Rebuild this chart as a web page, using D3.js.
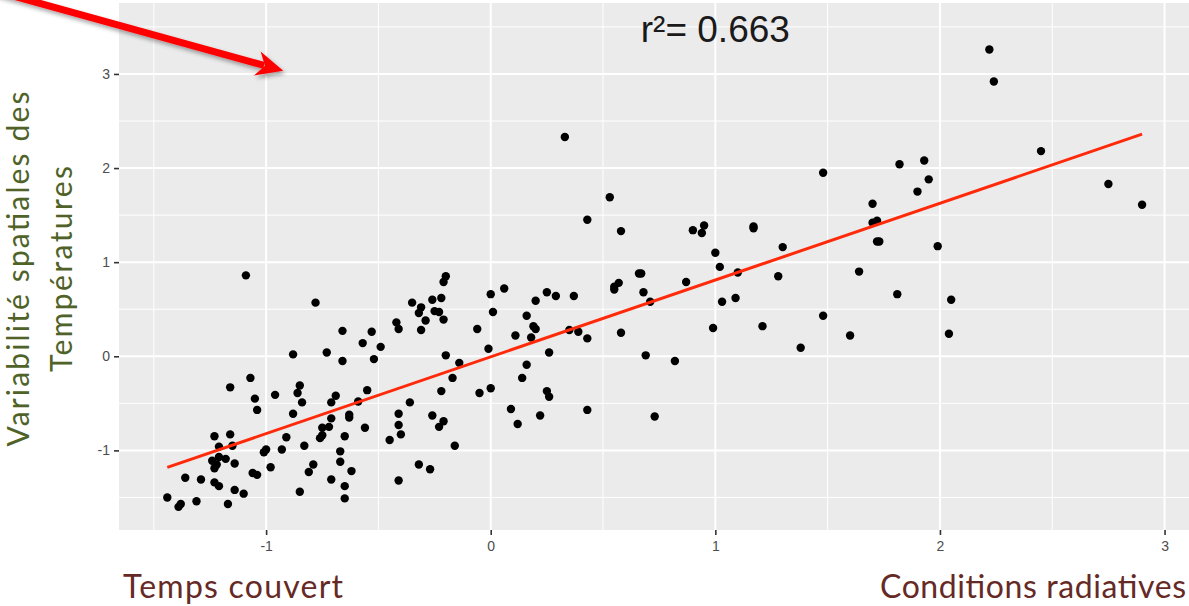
<!DOCTYPE html>
<html>
<head>
<meta charset="utf-8">
<script src="https://cdn.jsdelivr.net/npm/d3@7"></script>
<style>
  html, body { margin: 0; padding: 0; background: #ffffff; }
  svg { display: block; }
</style>
</head>
<body>
<svg id="chart" width="1189" height="606"></svg>
<script>
// Standardised anomalies: weather-type index (x) vs spatial temperature variability (y)
const xValues = [
  -1.44, -1.39, -1.38, -1.31, -1.36, -1.29, -1.23, -1.21, -1.14, -1.10,
  -1.17, -1.24, -1.22, -1.21, -1.18, -1.14, -1.23, -1.21, -1.15, -1.23,
  -1.16, -1.06, -1.04, -0.98, -1.01, -1.00, -0.93, -1.07, -1.16, -1.05,
  -1.04, -1.09, -0.96, -0.85, -0.86, -0.84, -0.88, -0.91, -0.83, -0.79,
  -0.81, -0.85, -0.78, -0.88, -0.73, -0.66, -0.66, -0.69, -0.71, -0.71,
  -0.75, -0.72, -0.76, -0.75, -0.65, -0.67, -0.67, -0.62, -0.71, -0.65,
  -0.65, -0.63, -0.63, -0.59, -0.56, -0.55, -0.57, -0.53, -0.52, -0.49,
  -0.42, -0.41, -0.35, -0.31, -0.32, -0.31, -0.29, -0.26, -0.25, -0.23,
  -0.22, -0.21, -0.20, -0.21, -0.20, -0.14, -0.17, -0.22, -0.36, -0.41,
  -0.41, -0.40, -0.45, -0.26, -0.21, -0.23, -0.16, -0.41, -0.32, -0.27,
  -0.05, 0.00, -0.06, -0.01, 0.00, 0.01, 0.06, 0.09, 0.12, 0.22,
  0.14, 0.16, 0.26, 0.11, 0.18, 0.19, 0.20, 0.16, 0.20, 0.25,
  0.29, 0.37, 0.35, 0.39, 0.43, 0.25, 0.26, 0.43, 0.33, 0.43,
  0.53, 0.58, 0.55, 0.57, 0.55, 0.66, 0.67, 0.68, 0.71, 0.58,
  0.69, 0.73, 0.82, 0.87, 0.90, 0.94, 0.95, 1.00, 1.02, 1.03,
  0.99, 1.09, 1.10, 1.17, 1.17, 1.21, 1.28, 1.30, 1.38, 1.48,
  1.48, 1.60, 1.64, 1.70, 1.70, 1.72, 1.72, 1.73, 1.81, 1.82,
  1.90, 1.93, 1.95, 1.99, 2.04, 2.05, 2.22, 2.24, 2.45, 2.75,
  2.90
];
const yValues = [
  -1.50, -1.60, -1.57, -1.54, -1.29, -1.31, -1.34, -1.38, -1.42, -1.46,
  -1.57, -1.11, -1.15, -1.07, -1.09, -1.14, -1.19, -0.96, -0.95, -0.85,
  -0.83, -1.24, -1.26, -1.18, -1.02, -0.99, -0.99, -0.23, -0.33, -0.45,
  -0.57, 0.86, -0.41, -0.31, -0.39, -0.49, -0.61, -0.86, -0.95, -1.15,
  -1.23, -1.44, 0.57, 0.02, 0.04, 0.27, -0.05, -0.42, -0.49, -0.66,
  -0.76, -0.75, -0.87, -0.84, -0.85, -1.01, -1.12, -1.22, -1.31, -1.38,
  -1.51, -0.62, -0.65, -0.48, -0.76, -0.36, 0.14, 0.26, -0.03, 0.10,
  0.36, 0.29, 0.57, 0.52, 0.46, 0.28, 0.38, 0.60, 0.48, 0.47,
  0.62, 0.39, 0.85, 0.79, 0.01, -0.07, -0.23, -0.37, -0.49, -0.61,
  -0.73, -0.83, -0.89, -0.63, -0.69, -0.75, -0.95, -1.32, -1.15, -1.20,
  -0.39, -0.34, 0.29, 0.08, 0.66, 0.47, 0.72, -0.56, -0.72, -0.63,
  -0.23, -0.09, 0.04, 0.22, 0.20, 0.32, 0.29, 0.43, 0.59, 0.68,
  0.64, 0.64, 0.28, 0.26, 0.19, -0.37, -0.43, -0.57, 2.33, 1.45,
  1.69, 1.33, 0.71, 0.78, 0.74, 0.88, 0.88, 0.68, 0.58, 0.25,
  0.01, -0.64, -0.05, 0.79, 1.34, 1.31, 1.39, 1.10, 0.95, 0.58,
  0.30, 0.62, 0.89, 1.38, 1.36, 0.32, 0.85, 1.16, 0.09, 1.95,
  0.43, 0.22, 0.90, 1.62, 1.42, 1.44, 1.22, 1.22, 0.66, 2.04,
  1.75, 2.08, 1.88, 1.17, 0.24, 0.60, 3.26, 2.92, 2.18, 1.83,
  1.61
];

// Linear fit drawn over the data range, and its coefficient of determination
const fitIntercept = -0.006;
const fitSlope = 0.816;
const rSquared = 0.663;

const xTicks = [-1, 0, 1, 2, 3];
const yTicks = [-1, 0, 1, 2, 3];
const xMinorTicks = [-1.5, -0.5, 0.5, 1.5, 2.5];
const yMinorTicks = [-1.5, -0.5, 0.5, 1.5, 2.5, 3.5];

const yTitleLines = ["Variabilité spatiales des", "Températures"];
const xTitleLow = "Temps couvert";
const xTitleHigh = "Conditions radiatives";

const svg = d3.select("#chart");

const panel = { left: 119, top: 3, right: 1191.5, bottom: 530 };
const x = d3.scaleLinear().domain([-1.655, 3.12]).range([panel.left, panel.right]);
const y = d3.scaleLinear().domain([-1.846, 3.754]).range([panel.bottom, panel.top]);

const defs = svg.append("defs");
defs.append("clipPath").attr("id", "panel-clip")
  .append("rect")
  .attr("x", panel.left).attr("y", panel.top)
  .attr("width", panel.right - panel.left)
  .attr("height", panel.bottom - panel.top);

const shadow = defs.append("filter").attr("id", "arrow-shadow")
  .attr("x", "-20%").attr("y", "-50%").attr("width", "140%").attr("height", "200%");
shadow.append("feDropShadow")
  .attr("dx", 2).attr("dy", 3).attr("stdDeviation", 2)
  .attr("flood-color", "#000").attr("flood-opacity", 0.35);

// Panel background
svg.append("rect")
  .attr("x", panel.left).attr("y", panel.top)
  .attr("width", panel.right - panel.left)
  .attr("height", panel.bottom - panel.top)
  .attr("fill", "#EBEBEB");

const grid = svg.append("g").attr("clip-path", "url(#panel-clip)");

// Minor grid
grid.selectAll("line.vminor").data(xMinorTicks).join("line")
  .attr("class", "vminor")
  .attr("x1", d => x(d)).attr("x2", d => x(d))
  .attr("y1", panel.top).attr("y2", panel.bottom)
  .attr("stroke", "#ffffff").attr("stroke-width", 1);
grid.selectAll("line.hminor").data(yMinorTicks).join("line")
  .attr("class", "hminor")
  .attr("y1", d => y(d)).attr("y2", d => y(d))
  .attr("x1", panel.left).attr("x2", panel.right)
  .attr("stroke", "#ffffff").attr("stroke-width", 1);

// Major grid
grid.selectAll("line.vmajor").data(xTicks).join("line")
  .attr("class", "vmajor")
  .attr("x1", d => x(d)).attr("x2", d => x(d))
  .attr("y1", panel.top).attr("y2", panel.bottom)
  .attr("stroke", "#ffffff").attr("stroke-width", 2);
grid.selectAll("line.hmajor").data(yTicks).join("line")
  .attr("class", "hmajor")
  .attr("y1", d => y(d)).attr("y2", d => y(d))
  .attr("x1", panel.left).attr("x2", panel.right)
  .attr("stroke", "#ffffff").attr("stroke-width", 2);

// Axes (plain hyphen-minus in the labels)
const plainInt = d => String(d);
const xAxis = d3.axisBottom(x).tickValues(xTicks).tickSize(5).tickPadding(6)
  .tickFormat(plainInt);
const yAxis = d3.axisLeft(y).tickValues(yTicks).tickSize(5).tickPadding(4)
  .tickFormat(plainInt);

const gx = svg.append("g").attr("transform", `translate(0,${panel.bottom})`).call(xAxis);
const gy = svg.append("g").attr("transform", `translate(${panel.left},0)`).call(yAxis);
[gx, gy].forEach(g => {
  g.select(".domain").remove();
  g.selectAll(".tick line").attr("stroke", "#333333").attr("stroke-width", 1.6);
  g.selectAll(".tick text")
    .attr("fill", "#4D4D4D")
    .style("font-family", "'Liberation Sans', Arial, sans-serif")
    .style("font-size", "14px");
});
gx.selectAll(".tick text").attr("dy", "0.71em");

// Points
const pts = d3.zip(xValues, yValues);
svg.append("g").attr("clip-path", "url(#panel-clip)")
  .selectAll("circle").data(pts).join("circle")
  .attr("cx", d => x(d[0])).attr("cy", d => y(d[1]))
  .attr("r", 4.2)
  .attr("fill", "#000000");

// Regression line across the observed x range
const xExtent = d3.extent(xValues);
const fitLine = d3.line().x(d => x(d)).y(d => y(fitIntercept + fitSlope * d));
svg.append("path")
  .datum(xExtent)
  .attr("d", fitLine)
  .attr("fill", "none")
  .attr("stroke", "#FF2A0A")
  .attr("stroke-width", 3);

// r² annotation
svg.append("text")
  .attr("x", x(1)).attr("y", 41.5)
  .attr("text-anchor", "middle")
  .attr("fill", "#1a1a1a")
  .style("font-family", "'Liberation Sans', Arial, sans-serif")
  .style("font-size", "37px")
  .text(`r²= ${rSquared.toFixed(3)}`);

// Y-axis title (two lines, rotated)
const yTitleSpecs = [
  { text: yTitleLines[0], bx: 29, len: 355 },
  { text: yTitleLines[1], bx: 72, len: 206 }
];
svg.selectAll("text.ytitle").data(yTitleSpecs).join("text")
  .attr("class", "ytitle")
  .attr("transform", d => `translate(${d.bx},269) rotate(-90)`)
  .attr("text-anchor", "middle")
  .attr("textLength", d => d.len)
  .attr("lengthAdjust", "spacing")
  .attr("fill", "#4F6228")
  .style("font-family", "Lato, 'Open Sans', sans-serif")
  .style("font-size", "30px")
  .text(d => d.text);

// X-axis end labels
const xTitleSpecs = [
  { text: xTitleLow, x0: 123, len: 220 },
  { text: xTitleHigh, x0: 880, len: 306 }
];
svg.selectAll("text.xtitle").data(xTitleSpecs).join("text")
  .attr("class", "xtitle")
  .attr("x", d => d.x0).attr("y", 598)
  .attr("textLength", d => d.len)
  .attr("lengthAdjust", "spacing")
  .attr("fill", "#652A25")
  .style("font-family", "Lato, 'Open Sans', sans-serif")
  .style("font-size", "32px")
  .text(d => d.text);

// Pointer arrow toward the upper part of the panel
const tip = [283.3, 70.7];
const ang = Math.atan2(45.2, 163.3);
const ux = Math.cos(ang), uy = Math.sin(ang);
const px = -uy, py = ux;
const start = [tip[0] - 360 * ux, tip[1] - 360 * uy];
const neck = [tip[0] - 20 * ux, tip[1] - 20 * uy];
const back = [tip[0] - 27 * ux, tip[1] - 27 * uy];
const halfW = 12.5;
const arrow = svg.append("g").attr("filter", "url(#arrow-shadow)");
arrow.append("line")
  .attr("x1", start[0]).attr("y1", start[1])
  .attr("x2", neck[0]).attr("y2", neck[1])
  .attr("stroke", "#FF0000").attr("stroke-width", 7);
arrow.append("path")
  .attr("d", d3.line()([
    tip,
    [back[0] + halfW * px, back[1] + halfW * py],
    [tip[0] - 19 * ux, tip[1] - 19 * uy],
    [back[0] - halfW * px, back[1] - halfW * py]
  ]) + "Z")
  .attr("fill", "#FF0000");
</script>
</body>
</html>
